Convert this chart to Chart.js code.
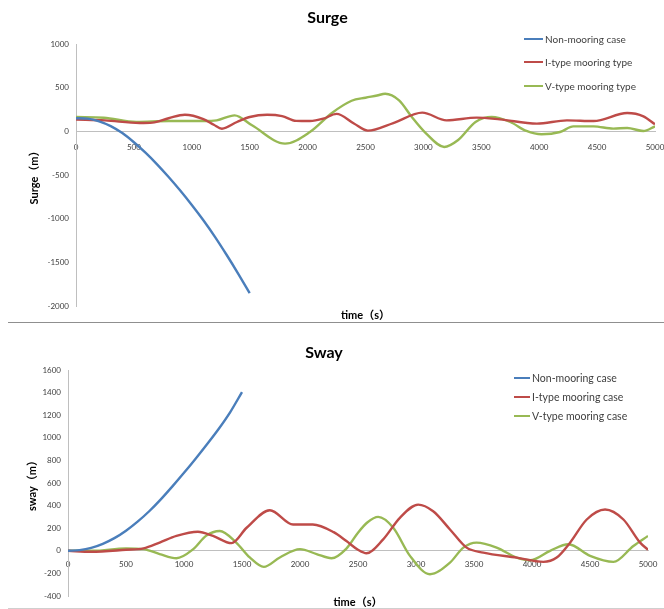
<!DOCTYPE html>
<html>
<head>
<meta charset="utf-8">
<script src="https://cdn.jsdelivr.net/npm/chart.js@4.4.1/dist/chart.umd.min.js"></script>
<style>
  html, body { margin: 0; padding: 0; background: #fff; }
  #page { position: relative; width: 664px; height: 609px; overflow: hidden; font-family: Lato, "Noto Sans CJK SC", sans-serif; }
  .panel { position: absolute; left: 0; width: 664px; }
  .rule { position: absolute; left: 8px; right: 0; height: 1px; }
  .legend { position: absolute; left: 0; top: 0; color: #404040; }
  .legend .row { position: absolute; height: 14px; line-height: 14px; white-space: nowrap; display: flex; align-items: center; }
  .legend .swatch { display: inline-block; height: 2px; margin-right: 2px; }
</style>
</head>
<body>
<div id="page">
  <div class="panel" style="top:0;height:322px"><canvas id="surgeChart"></canvas></div>
  <div class="rule" style="top:322px;background:#8f8f8f"></div>
  <div class="panel" style="top:325px;height:284px"><canvas id="swayChart"></canvas></div>
  <div class="rule" style="top:608px;background:#cfcfcf"></div>
  <div class="legend" id="surgeLegend"></div>
  <div class="legend" id="swayLegend"></div>
</div>
<script>
// shared x axis (time in s)
const timeTicks = [0, 500, 1000, 1500, 2000, 2500, 3000, 3500, 4000, 4500, 5000];
const lineColors = ["#4a7ebb", "#be4b48", "#98b954"];
const axisGrey = "#bfbfbf";

// ---- Surge (top plot) ----
const surgeTicks = [-2000, -1500, -1000, -500, 0, 500, 1000];
const surgeLabels = ["Non-mooring case", "I-type mooring type", "V-type mooring type"];

const surgeNonT = [0, 100, 200, 300, 400, 500, 600, 700, 800, 900, 1000, 1100, 1200, 1300, 1400, 1500];
const surgeNonV = [150, 145, 115, 60, -20, -125, -245, -378, -523, -678, -843, -1018, -1208, -1413, -1628, -1853];

const surgeIT = [0, 250, 550, 660, 800, 940, 1100, 1190, 1260, 1390, 1500, 1650, 1780, 1900, 2020, 2135, 2250, 2400, 2520, 2740, 2990, 3200, 3460, 3660, 3980, 4240, 4470, 4760, 4900, 5000];
const surgeIV = [135, 125, 95, 100, 150, 190, 140, 75, 30, 107, 164, 190, 175, 120, 118, 145, 200, 90, 8, 95, 214, 126, 157, 137, 88, 126, 118, 210, 172, 80];

const surgeVT = [0, 240, 520, 800, 1100, 1215, 1370, 1520, 1805, 2020, 2210, 2380, 2500, 2600, 2670, 2790, 2900, 3020, 3180, 3300, 3450, 3590, 3750, 3890, 4020, 4180, 4295, 4470, 4640, 4760, 4900, 5000];
const surgeVV = [164, 156, 107, 118, 118, 126, 183, 69, -141, -8, 210, 350, 385, 410, 431, 355, 164, -20, -179, -100, 107, 165, 107, 4, -34, -8, 57, 57, 31, 38, 4, 57];

// ---- Sway (bottom plot) ----
const swayTicks = [-400, -200, 0, 200, 400, 600, 800, 1000, 1200, 1400, 1600];
const swayLabels = ["Non-mooring case", "I-type mooring case", "V-type mooring case"];

const swayNonT = [0, 100, 200, 300, 400, 500, 600, 700, 800, 900, 1000, 1100, 1200, 1300, 1400, 1500];
const swayNonV = [0, 6, 26, 62, 112, 178, 258, 350, 455, 570, 690, 815, 945, 1080, 1230, 1405];

const swayIT = [0, 200, 500, 650, 790, 935, 1120, 1250, 1410, 1540, 1740, 1940, 2110, 2290, 2400, 2500, 2573, 2717, 2861, 3019, 3148, 3293, 3436, 3580, 3868, 4098, 4213, 4328, 4472, 4630, 4788, 4932, 5000];
const swayIV = [0, -9, 9, 21, 73, 132, 169, 132, 68, 204, 359, 233, 233, 165, 86, 9, -22, 101, 292, 409, 350, 189, 28, -16, -60, -98, -60, 72, 277, 365, 277, 72, 9];

const swayVT = [0, 216, 500, 650, 790, 935, 1080, 1190, 1308, 1450, 1567, 1688, 1826, 2000, 2143, 2272, 2400, 2500, 2580, 2674, 2804, 2948, 3120, 3293, 3408, 3522, 3695, 3868, 3983, 4156, 4314, 4501, 4702, 4874, 5000];
const swayVV = [0, 0, 21, 15, -29, -66, 15, 132, 175, 73, -59, -142, -59, 15, -29, -66, 20, 160, 250, 300, 204, -45, -207, -104, 28, 72, 28, -60, -84, 0, 58, -45, -98, 43, 132];

const fontFamily = "Lato, 'Noto Sans CJK SC', sans-serif";

function toPoints(ts, vs){
    return ts.map((t, i) => ({ x: t, y: vs[i] }));
};

// builds one Excel-like panel
function buildChart(canvasId, o){
    const datasets = o.series.map((s, i) => ({
        label: o.labels[i],
        data: toPoints(s[0], s[1]),
        borderColor: lineColors[i],
        backgroundColor: lineColors[i],
        borderWidth: 2.4,
        pointRadius: 0,
        fill: false,
        cubicInterpolationMode: 'monotone'
    }));
    return new Chart(document.getElementById(canvasId), {
        type: 'line',
        data: { datasets: datasets },
        options: {
            responsive: true,
            maintainAspectRatio: false,
            animation: false,
            devicePixelRatio: 1,
            layout: { padding: { left: 0, right: o.padRight, top: 0, bottom: 0 } },
            plugins: {
                legend: { display: false },
                tooltip: { enabled: false },
                title: {
                    display: true,
                    text: o.title,
                    color: '#000',
                    font: { family: fontFamily, size: 16, weight: 'bold' },
                    padding: { top: o.titleTop, bottom: o.titleBottom }
                }
            },
            scales: {
                x: {
                    type: 'linear',
                    min: 0,
                    max: 5000,
                    position: { y: 0 },
                    grid: { display: false, drawTicks: false },
                    border: { display: true, color: axisGrey, width: 1 },
                    ticks: {
                        color: '#404040',
                        font: { family: fontFamily, size: 8 },
                        padding: o.xTickPad,
                        autoSkip: false,
                        maxRotation: 0,
                        callback: (v) => v
                    },
                    afterBuildTicks: (s) => { s.ticks = timeTicks.map(v => ({ value: v })); },
                    afterFit: (s) => { s.paddingLeft = 0; s.paddingRight = 0; }
                },
                xTitle: {
                    type: 'linear',
                    min: 0,
                    max: 5000,
                    position: 'bottom',
                    grid: { display: false, drawTicks: false },
                    border: { display: false },
                    ticks: { display: false },
                    title: {
                        display: true,
                        text: 'time（s）',
                        color: '#000',
                        font: { family: fontFamily, size: 11, weight: 'bold' },
                        padding: { top: 0, bottom: 0.4 }
                    },
                    afterFit: (s) => { s.height = o.xTitleH; s.paddingLeft = 0; s.paddingRight = 0; }
                },
                y: {
                    type: 'linear',
                    min: o.yTicks[0],
                    max: o.yTicks[o.yTicks.length - 1],
                    position: 'left',
                    grid: { display: false, drawTicks: false },
                    border: { display: true, color: axisGrey, width: 1 },
                    ticks: {
                        color: '#404040',
                        font: { family: fontFamily, size: 8 },
                        padding: 7,
                        callback: (v) => v
                    },
                    afterBuildTicks: (s) => { s.ticks = o.yTicks.map(v => ({ value: v })); },
                    title: {
                        display: true,
                        text: o.yTitle,
                        color: '#000',
                        font: { family: fontFamily, size: 11, weight: 'bold' },
                        padding: { top: o.yTitlePad, bottom: 0 }
                    },
                    afterFit: (s) => { s.width = o.left; s.paddingTop = 0; s.paddingBottom = 0; }
                }
            }
        }
    });
};

// html legend, one row per series
function buildLegend(elId, labels, rows, swatchLeft, swatchW, size){
    const el = document.getElementById(elId);
    labels.forEach((label, i) => {
        const row = document.createElement('div');
        row.className = 'row';
        row.style.left = swatchLeft + 'px';
        row.style.top = (rows[i] - 7) + 'px';
        row.style.fontSize = size + 'px';
        const sw = document.createElement('span');
        sw.className = 'swatch';
        sw.style.width = swatchW + 'px';
        sw.style.background = lineColors[i];
        row.appendChild(sw);
        row.appendChild(document.createTextNode(label));
        el.appendChild(row);
    });
};

buildChart('surgeChart', {
    title: 'Surge',
    yTitle: 'Surge（m）',
    labels: surgeLabels,
    yTicks: surgeTicks,
    series: [[surgeNonT, surgeNonV], [surgeIT, surgeIV], [surgeVT, surgeVV]],
    left: 76, padRight: 9,
    titleTop: 8.4, titleBottom: 16.4,
    xTitleH: 16, xTickPad: 11, yTitlePad: 27.4
});

buildChart('swayChart', {
    title: 'Sway',
    yTitle: 'sway（m）',
    labels: swayLabels,
    yTicks: swayTicks,
    series: [[swayNonT, swayNonV], [swayIT, swayIV], [swayVT, swayVV]],
    left: 68, padRight: 16,
    titleTop: 18.4, titleBottom: 7.4,
    xTitleH: 13, xTickPad: 9, yTitlePad: 25.4
});

buildLegend('surgeLegend', surgeLabels, [39, 62, 86], 524, 19, 10);
buildLegend('swayLegend', swayLabels, [378, 397, 416], 514, 16, 10.5);
</script>
</body>
</html>
